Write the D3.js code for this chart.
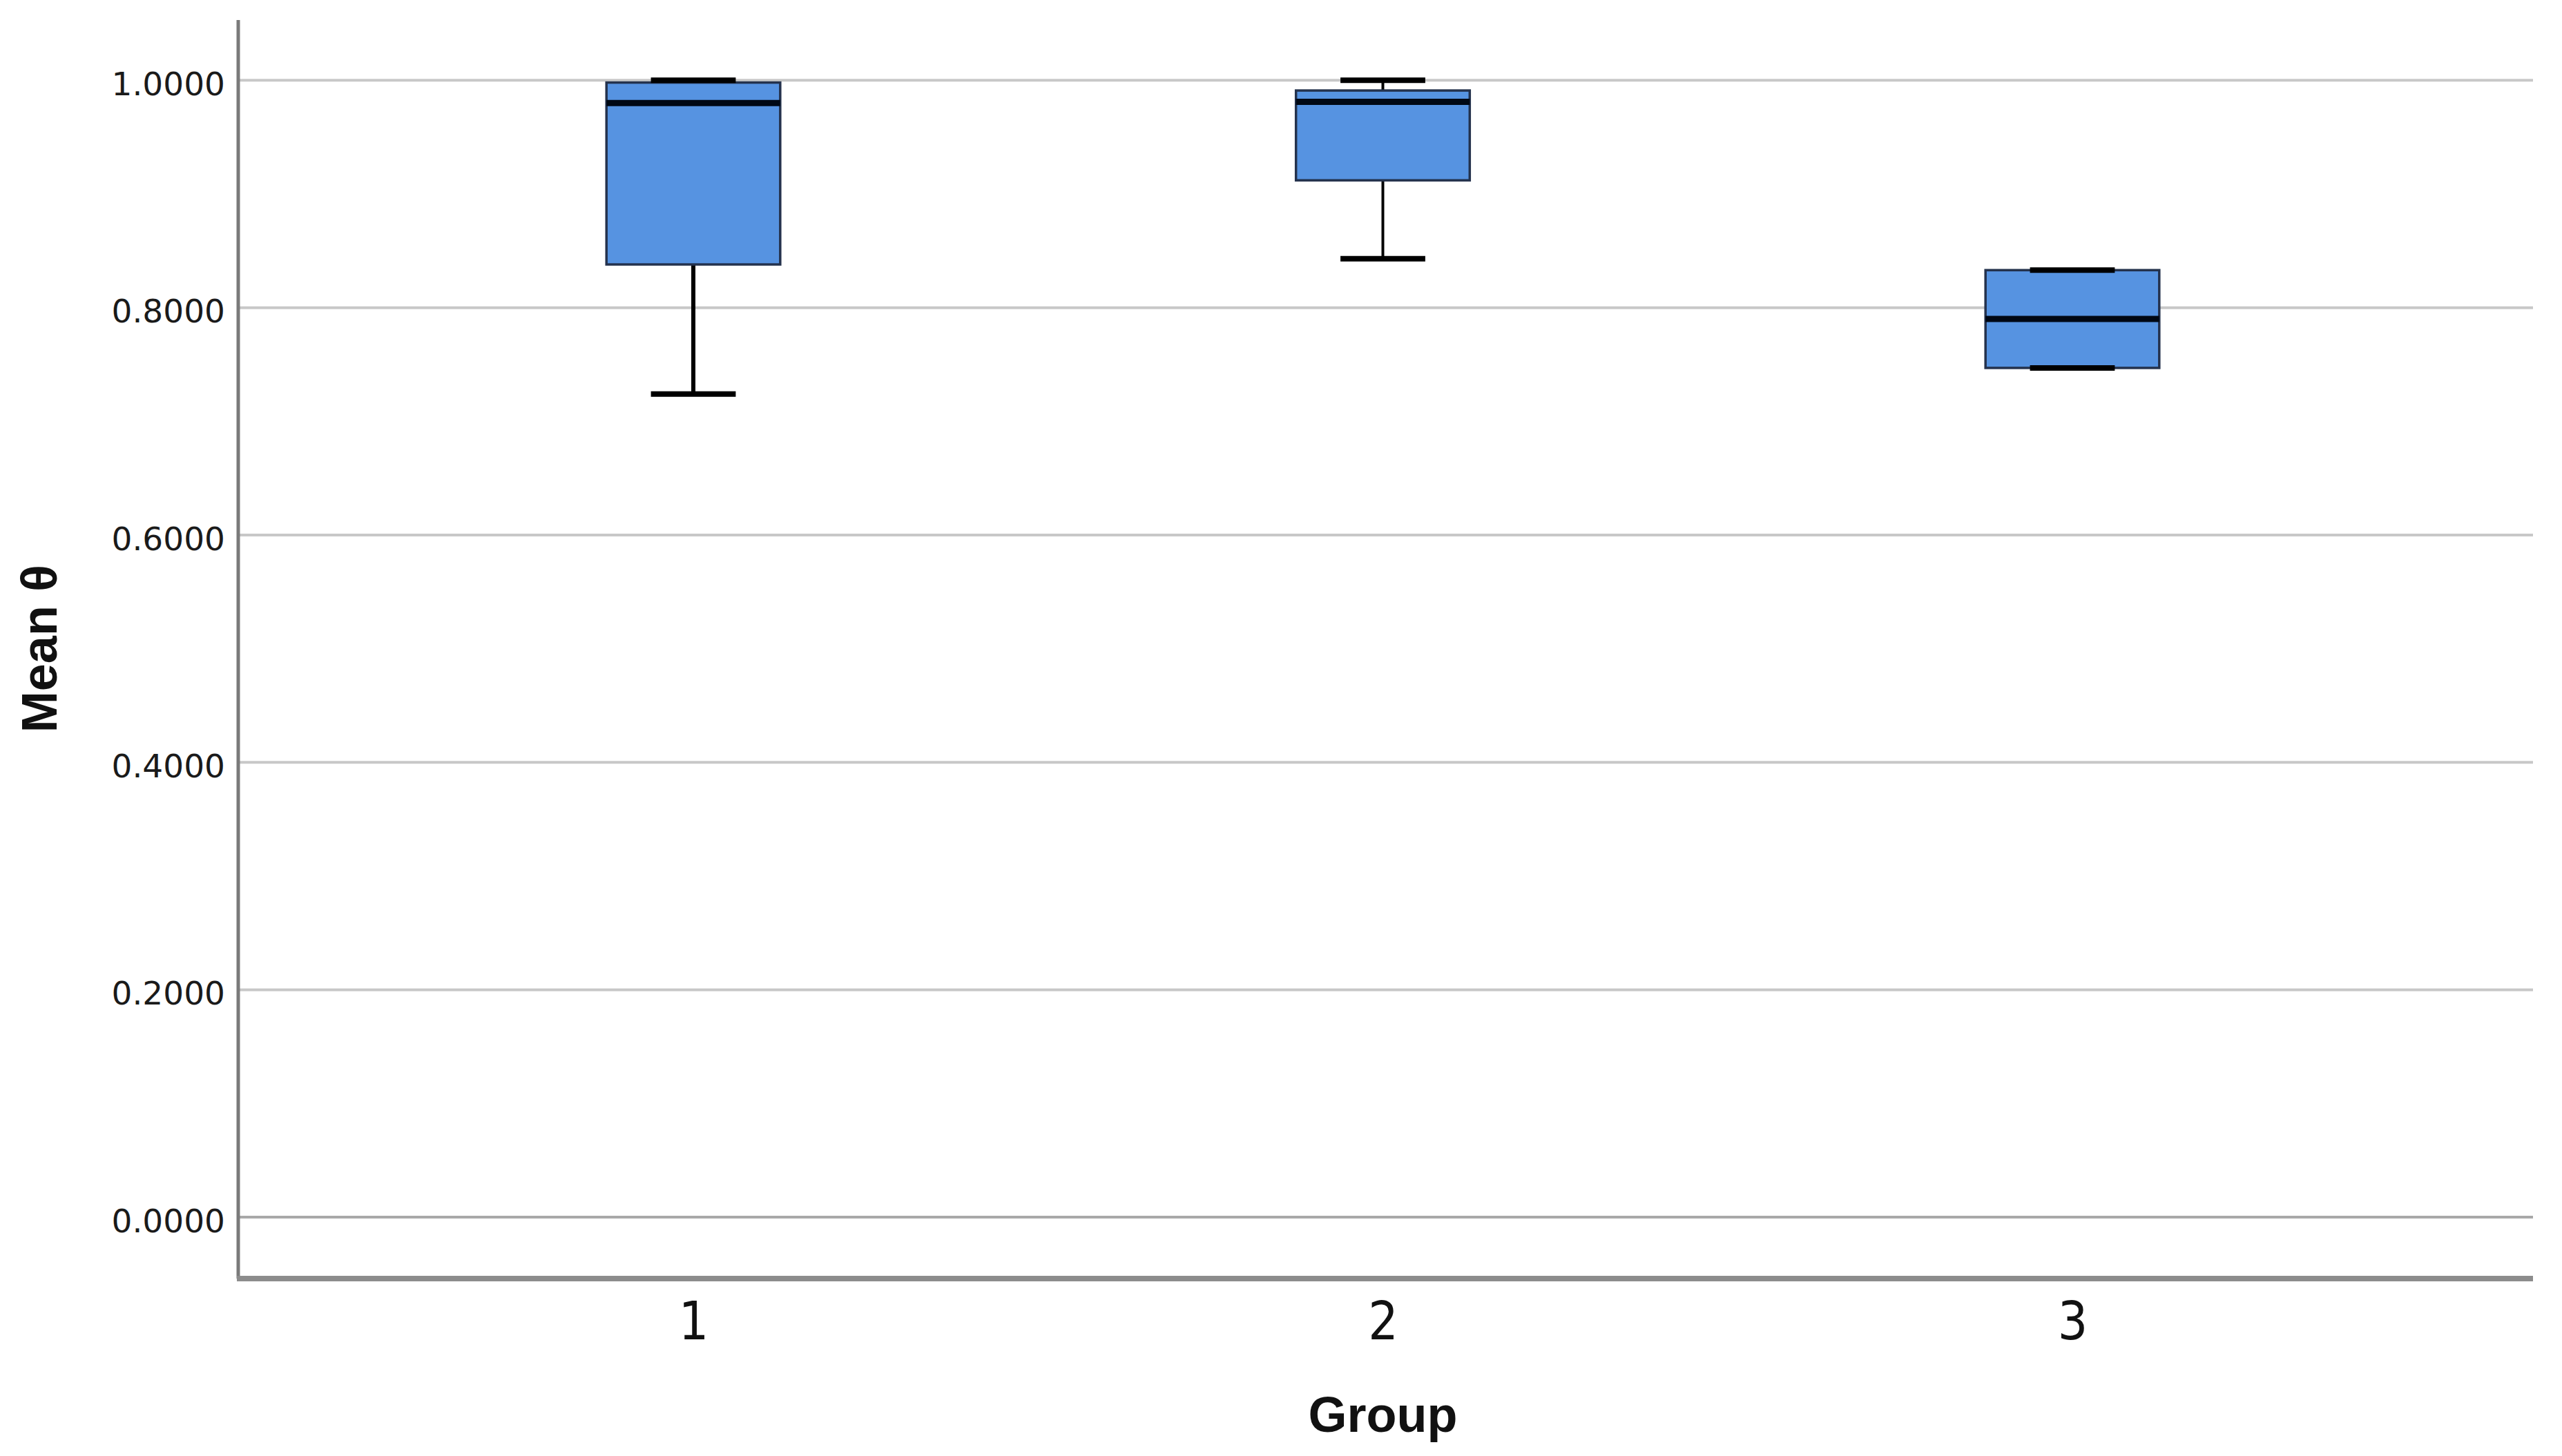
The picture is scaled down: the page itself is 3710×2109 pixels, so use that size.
<!DOCTYPE html>
<html>
<head>
<meta charset="utf-8">
<script src="https://cdn.jsdelivr.net/npm/d3@7"></script>
<style>
  html, body { margin: 0; padding: 0; background: #fff; }
  svg { display: block; }
</style>
</head>
<body>
<svg id="chart" width="3710" height="2109"></svg>
<script>
// ---- Data ----
const groups      = ["1", "2", "3"];
const whiskerLow  = [0.724, 0.843, 0.747];
const q1          = [0.838, 0.912, 0.747];
const medians     = [0.980, 0.981, 0.790];
const q3          = [0.998, 0.991, 0.833];
const whiskerHigh = [1.000, 1.000, 0.833];
const yTicks      = [0, 0.2, 0.4, 0.6, 0.8, 1.0];
const xTitle = "Group";
const yTitle = "Mean θ";

const W = 3710, H = 2109;
const m = { left: 345, right: 3668, top: 29, bottom: 1852 };

const svg = d3.select("#chart");

const x = d3.scalePoint().domain(groups).range([m.left, m.right - 8]).padding(0.66);
const y = d3.scaleLinear().domain([-0.054, 1.053]).range([m.bottom, m.top]);

const step = x.step();
const boxW = step * 0.252;
const capW = step * 0.123;

// gridlines
svg.append("g")
  .selectAll("line")
  .data(yTicks)
  .join("line")
  .attr("x1", m.left).attr("x2", m.right)
  .attr("y1", d => y(d)).attr("y2", d => y(d))
  .attr("stroke", d => d === 0 ? "#a8a8a8" : "#c8c8c8")
  .attr("stroke-width", 4);

// y axis
const yAxis = d3.axisLeft(y).tickValues(yTicks).tickSize(0).tickPadding(19)
  .tickFormat(d3.format(".4f"));
const gy = svg.append("g").attr("transform", `translate(${m.left},0)`).call(yAxis);
gy.select(".domain").remove();
gy.selectAll("text")
  .attr("font-family", "DejaVu Sans, sans-serif")
  .attr("font-size", 47)
  .attr("fill", "#1a1a1a")
  .attr("dy", "0.45em");

// x axis
const xAxis = d3.axisBottom(x).tickSize(0).tickPadding(34);
const gx = svg.append("g").attr("transform", `translate(0,${m.bottom})`).call(xAxis);
gx.select(".domain").remove();
gx.selectAll("text")
  .attr("font-family", "Liberation Sans Narrow, DejaVu Sans Condensed, Liberation Sans, sans-serif")
  .attr("font-stretch", "condensed")
  .attr("font-size", 76)
  .attr("fill", "#111");

// axis lines
svg.append("line")
  .attr("x1", m.left).attr("x2", m.left)
  .attr("y1", m.top).attr("y2", m.bottom)
  .attr("stroke", "#7a7a7a").attr("stroke-width", 5);
svg.append("line")
  .attr("x1", m.left - 2).attr("x2", m.right)
  .attr("y1", m.bottom).attr("y2", m.bottom)
  .attr("stroke", "#8c8c8c").attr("stroke-width", 8);

// boxes
const data = groups.map((g, i) => ({
  g, lo: whiskerLow[i], q1: q1[i], med: medians[i], q3: q3[i], hi: whiskerHigh[i]
}));

const gb = svg.append("g").selectAll("g").data(data).join("g");

// whisker stems
gb.append("line")
  .attr("x1", d => x(d.g)).attr("x2", d => x(d.g))
  .attr("y1", d => y(d.hi)).attr("y2", d => y(d.q3))
  .attr("stroke", "#000").attr("stroke-width", 4);
gb.append("line")
  .attr("x1", d => x(d.g)).attr("x2", d => x(d.g))
  .attr("y1", d => y(d.q1)).attr("y2", d => y(d.lo))
  .attr("stroke", "#000").attr("stroke-width", d => d.g === "1" ? 6 : 4);

// box
gb.append("rect")
  .attr("x", d => x(d.g) - boxW / 2)
  .attr("width", boxW)
  .attr("y", d => y(d.q3))
  .attr("height", d => y(d.q1) - y(d.q3))
  .attr("fill", "#5693e1")
  .attr("stroke", "#24324d")
  .attr("stroke-width", 3.5);

// caps
["lo", "hi"].forEach(k => {
  gb.append("line")
    .attr("x1", d => x(d.g) - capW / 2).attr("x2", d => x(d.g) + capW / 2)
    .attr("y1", d => y(d[k])).attr("y2", d => y(d[k]))
    .attr("stroke", "#000").attr("stroke-width", 8);
});

// median
gb.append("line")
  .attr("x1", d => x(d.g) - boxW / 2).attr("x2", d => x(d.g) + boxW / 2)
  .attr("y1", d => y(d.med)).attr("y2", d => y(d.med))
  .attr("stroke", "#000814").attr("stroke-width", 9);

// titles
svg.append("text")
  .attr("x", x(groups[1]))
  .attr("y", 2074)
  .attr("text-anchor", "middle")
  .attr("font-family", "Liberation Sans, Arial, sans-serif")
  .attr("font-weight", "bold")
  .attr("font-size", 72)
  .attr("fill", "#111")
  .text(xTitle);

svg.append("text")
  .attr("transform", `translate(82, ${(y(0.4) + y(0.6)) / 2 + 0}) rotate(-90)`)
  .attr("text-anchor", "middle")
  .attr("font-family", "Liberation Sans, Arial, sans-serif")
  .attr("font-weight", "bold")
  .attr("font-size", 72)
  .attr("fill", "#111")
  .text(yTitle);
</script>
</body>
</html>
